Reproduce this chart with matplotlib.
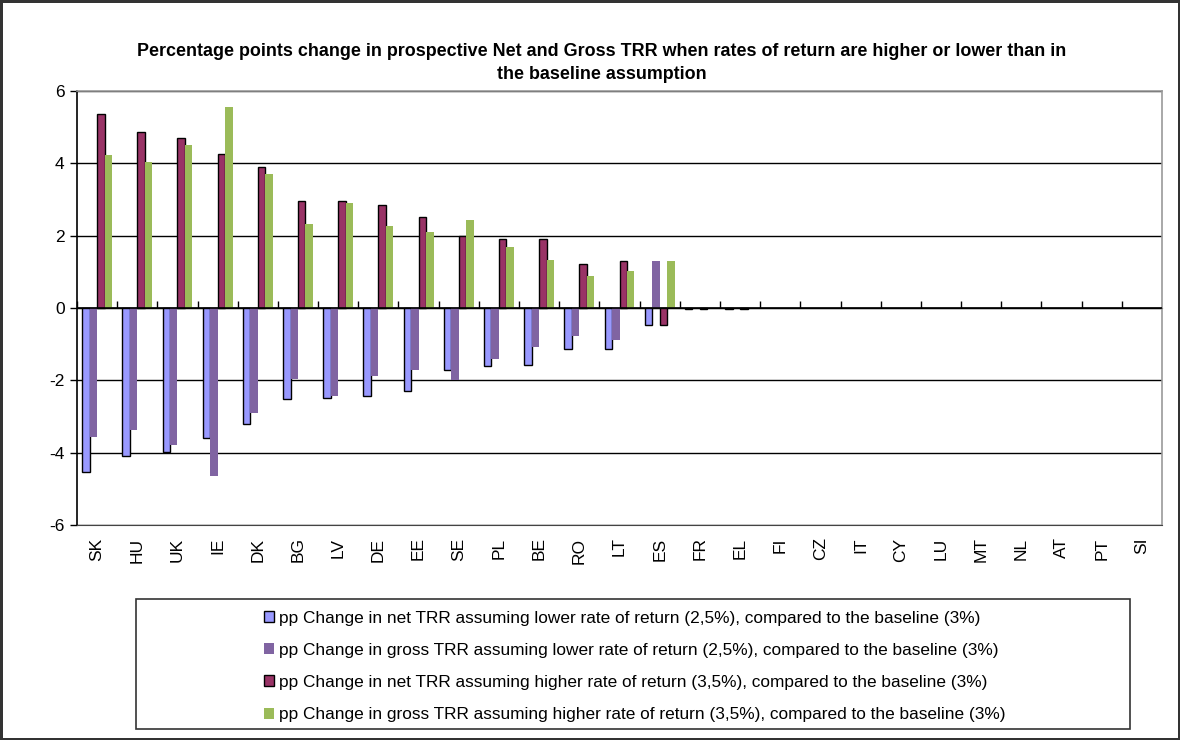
import matplotlib
matplotlib.use("Agg")
import matplotlib.pyplot as plt
import numpy as np
from matplotlib.patches import Rectangle

plt.rcParams['font.family'] = ['Liberation Sans', 'DejaVu Sans']

countries = ["SK", "HU", "UK", "IE", "DK", "BG", "LV", "DE", "EE", "SE", "PL", "BE", "RO", "LT",
             "ES", "FR", "EL", "FI", "CZ", "IT", "CY", "LU", "MT", "NL", "AT", "PT", "SI"]
net_lower = [-4.53, -4.08, -3.97, -3.60, -3.21, -2.52, -2.49, -2.44, -2.30, -1.72, -1.61, -1.58, -1.12, -1.12,
             -0.46, -0.04, -0.04, 0, 0, 0, 0, 0, 0, 0, 0, 0, 0]
gross_lower = [-3.56, -3.36, -3.78, -4.64, -2.89, -1.96, -2.42, -1.87, -1.71, -2.00, -1.41, -1.07, -0.77, -0.88,
               1.30, 0, 0, 0, 0, 0, 0, 0, 0, 0, 0, 0, 0]
net_higher = [5.36, 4.88, 4.70, 4.25, 3.90, 2.96, 2.96, 2.86, 2.52, 1.99, 1.92, 1.92, 1.23, 1.30,
              -0.46, -0.04, -0.04, 0, 0, 0, 0, 0, 0, 0, 0, 0, 0]
gross_higher = [4.23, 4.04, 4.51, 5.57, 3.71, 2.32, 2.90, 2.27, 2.10, 2.42, 1.69, 1.33, 0.89, 1.03,
                1.30, 0, 0, 0, 0, 0, 0, 0, 0, 0, 0, 0, 0]
series_labels = [
    "pp Change in net TRR assuming lower rate of return (2,5%), compared to the baseline (3%)",
    "pp Change in gross TRR assuming lower rate of return (2,5%), compared to the baseline (3%)",
    "pp Change in net TRR assuming higher rate of return (3,5%), compared to the baseline (3%)",
    "pp Change in gross TRR assuming higher rate of return (3,5%), compared to the baseline (3%)",
]
title = ("Percentage points change in prospective Net and Gross TRR when rates of return are higher or lower than in\n"
         "the baseline assumption")

W, H = 1180, 740
fig = plt.figure(figsize=(W / 100, H / 100), dpi=100)
fig.patch.set_facecolor('white')
fig.patch.set_edgecolor('#333333')
fig.patch.set_linewidth(2.5)

ax = fig.add_axes([77 / W, 1 - 525 / H, (1162 - 77) / W, (525 - 91) / H])
x = np.arange(len(countries))
bw = 0.186
colors = ['#9999FF', '#8064A2', '#993366', '#9BBB59']
edges = ['black', 'none', 'black', 'none']
data = [net_lower, gross_lower, net_higher, gross_higher]
handles = []
for i, (vals, c, e, lab) in enumerate(zip(data, colors, edges, series_labels)):
    v = np.asarray(vals, dtype=float)
    v = np.where(v == 0, np.nan, v)
    b = ax.bar(x + (i - 1.5) * bw, v, bw, color=c, edgecolor=e,
               linewidth=1.0 if e != 'none' else 0, label=lab, zorder=3)
    handles.append(b)

ax.set_xlim(-0.5, len(countries) - 0.5)
ax.set_ylim(-6, 6)
ax.set_yticks([-6, -4, -2, 0, 2, 4, 6])
ax.set_yticklabels(['-6', '-4', '-2', '0', '2', '4', '6'], fontsize=12.5)
ax.tick_params(axis='y', direction='out', length=5, width=1, pad=4)
ax.yaxis.grid(True, color='black', linewidth=1, zorder=0)
ax.set_axisbelow(True)

ax.set_xticks(x)
ax.set_xticklabels(countries, rotation=90, fontsize=12.5)
ax.tick_params(axis='x', length=0, pad=9)

for s in ['top', 'right']:
    ax.spines[s].set_color('#999999')
    ax.spines[s].set_linewidth(1.2)
ax.spines['bottom'].set_color('#444444')
ax.spines['left'].set_color('black')
ax.spines['left'].set_linewidth(1.2)

# zero axis with category tick marks
ax.axhline(0, color='black', linewidth=1.2, zorder=4)
sec = ax.secondary_xaxis(0.5)
sec.set_xticks(np.arange(len(countries)) - 0.5)
sec.set_xticklabels([])
sec.tick_params(direction='out', length=5, width=1, color='black')
sec.spines['bottom'].set_visible(False)

fig.text(0.51, 1 - 63 / H, title, ha='center', va='center', fontsize=12.9,
         fontweight='bold', linespacing=1.5)

# legend box
fig.add_artist(Rectangle((136 / W, 1 - 729 / H), (1130 - 136) / W, (729 - 599) / H,
                         transform=fig.transFigure, fill=False, edgecolor='#333333', linewidth=1.2))
leg = fig.legend(handles=handles, loc='upper left', bbox_to_anchor=(248 / W, 1 - 595 / H),
                 frameon=False, fontsize=12.4, handlelength=0.6, handleheight=0.6,
                 handletextpad=0.3, labelspacing=1.0)

fig.savefig("out.png", dpi=100)
